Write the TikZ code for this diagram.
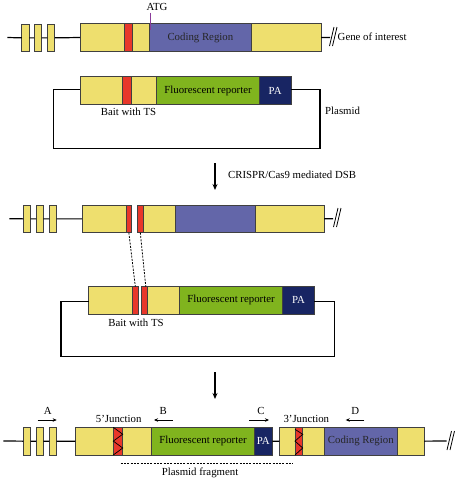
\documentclass[tikz,border=0pt]{standalone}
\usepackage{fontspec}
\setmainfont{Liberation Serif}
\usetikzlibrary{arrows.meta}
\definecolor{cyel}{HTML}{EEDF6E}
\definecolor{cred}{HTML}{E8372A}
\definecolor{cblu}{HTML}{6366A9}
\definecolor{cgrn}{HTML}{80B41E}
\definecolor{cnav}{HTML}{182563}
\definecolor{cpur}{HTML}{8A3C9A}
\tikzset{
  seg/.style={draw=black!75, line width=0.8pt, inner sep=0pt, outer sep=0pt, anchor=north west, font=\fontsize{10.8}{13}\selectfont},
  yel/.style={seg, fill=cyel},
  rd/.style={seg, fill=cred},
  blu/.style={seg, fill=cblu},
  grn/.style={seg, fill=cgrn},
  pa/.style={seg, fill=cnav, text=white},
  wire/.style={line width=1.2pt, black},
  lbl/.style={font=\fontsize{10.8}{13}\selectfont, inner sep=0pt},
  primer/.style={line width=0.8pt, -{Stealth[length=4pt,width=3.5pt]}},
  bigarrow/.style={line width=1.2pt, -{Stealth[length=6pt,width=5pt]}},
  dsh/.style={line width=0.8pt, dash pattern=on 2pt off 1.3pt},
  brk/.style={line width=0.8pt}
}
\begin{document}
\begin{tikzpicture}[x=1pt,y=-1pt]
\useasboundingbox (0,0) rectangle (459,482);

% ---------- Row 1: gene of interest ----------
\coordinate (r1s) at (7.3,37.5);
\coordinate (r1e) at (330,37.5);
\node[yel, minimum width=7.5pt, minimum height=27.7pt] (r1e1) at (21.8,24) {};
\node[yel, minimum width=7.5pt, minimum height=27.7pt] (r1e2) at (34,24) {};
\node[yel, minimum width=7.5pt, minimum height=27.7pt] (r1e3) at (47.3,24) {};
\node[yel, minimum width=44pt, minimum height=28.4pt] (r1y1) at (80,23.3) {};
\node[rd, minimum width=8.7pt, minimum height=28.4pt] (r1r) at (124,23.3) {};
\node[yel, minimum width=16.3pt, minimum height=28.4pt] (r1y2) at (132.7,23.3) {};
\node[blu, minimum width=102.7pt, minimum height=28.4pt, text=black!85] (r1c) at (149,23.3) {Coding Region};
\node[yel, minimum width=69.3pt, minimum height=28.4pt] (r1y3) at (251.7,23.3) {};
\draw[wire] (r1s) -- (r1e1.west) (r1e1.east) -- (r1e2.west) (r1e2.east) -- (r1e3.west) (r1e3.east) -- (r1y1.west) (r1y3.east) -- (r1e);
\draw[brk] (329.5,46) -- (334,27) (332.5,46) -- (337,27);
\node[lbl, anchor=west] (goi) at (337.5,37) {Gene of interest};
\node[lbl] (atg) at (157,7) {ATG};
\draw[cpur, line width=1pt] (150,12.5) -- (150,30);

% ---------- Plasmid 1 ----------
\node[yel, minimum width=42.7pt, minimum height=27.6pt] (p1y1) at (80,76.7) {};
\node[rd, minimum width=8.3pt, minimum height=27.6pt] (p1r) at (122.7,76.7) {};
\node[yel, minimum width=25.7pt, minimum height=27.6pt] (p1y2) at (131,76.7) {};
\node[grn, minimum width=102.6pt, minimum height=27.6pt] (p1g) at (156.7,76.7) {Fluorescent reporter};
\node[pa, minimum width=31.7pt, minimum height=27.6pt] (p1pa) at (259.3,76.7) {PA};
\coordinate (p1bl) at (53.3,148.3);
\coordinate (p1br) at (320,148.3);
\draw[wire] ([yshift=1pt]p1y1.west) -| (p1bl) -- (p1br) |- ([yshift=1pt]p1pa.east);
\node[lbl] (bait1) at (128.5,112) {Bait with TS};
\node[lbl, anchor=west] (plas) at (325,111) {Plasmid};

% ---------- Arrow 1 ----------
\coordinate (a1s) at (215,163);
\coordinate (a1e) at (215,190);
\draw[bigarrow] (a1s) -- (a1e);
\node[lbl, anchor=west] (crispr) at (228,175) {CRISPR/Cas9 mediated DSB};

% ---------- Row 2: cut gene ----------
\coordinate (r2s) at (9.3,218.8);
\coordinate (r2e) at (333,218.8);
\node[yel, minimum width=7.4pt, minimum height=27.7pt] (r2e1) at (23.3,205) {};
\node[yel, minimum width=7.4pt, minimum height=27.7pt] (r2e2) at (36,205) {};
\node[yel, minimum width=7.4pt, minimum height=27.7pt] (r2e3) at (49.3,205) {};
\node[yel, minimum width=44.7pt, minimum height=27.7pt] (r2y1) at (82,205) {};
\node[rd, minimum width=4.3pt, minimum height=27.7pt] (r2r1) at (126.7,205) {};
\node[rd, minimum width=6pt, minimum height=27.7pt] (r2r2) at (137.3,205) {};
\node[yel, minimum width=31.7pt, minimum height=27.7pt] (r2y2) at (143.3,205) {};
\node[blu, minimum width=80pt, minimum height=27.7pt] (r2b) at (175,205) {};
\node[yel, minimum width=69pt, minimum height=27.7pt] (r2y3) at (255,205) {};
\draw[wire] (r2s) -- (r2e1.west) (r2e1.east) -- (r2e2.west) (r2e2.east) -- (r2e3.west) (r2e3.east) -- (r2y1.west) (r2y3.east) -- (r2e);
\draw[brk] (333.5,227) -- (338,208) (336.5,227) -- (341,208);

% ---------- Plasmid 2 ----------
\node[yel, minimum width=44pt, minimum height=27.3pt] (p2y1) at (88.7,286.7) {};
\node[rd, minimum width=5.3pt, minimum height=27.3pt] (p2r1) at (132.7,286.7) {};
\node[rd, minimum width=6pt, minimum height=27.3pt] (p2r2) at (141.3,286.7) {};
\node[yel, minimum width=32pt, minimum height=27.3pt] (p2y2) at (147.3,286.7) {};
\node[grn, minimum width=103.4pt, minimum height=27.3pt] (p2g) at (179.3,286.7) {Fluorescent reporter};
\node[pa, minimum width=31.6pt, minimum height=27.3pt] (p2pa) at (282.7,286.7) {PA};
\draw[dsh] (r2r1.south) -- (p2r1.north);
\draw[dsh] (r2r2.south) -- ([xshift=1.5pt]p2r2.north);
\coordinate (p2bl) at (61,356.7);
\coordinate (p2br) at (334.3,356.7);
\draw[wire] ([yshift=-1pt]p2y1.west) -| (p2bl) -- (p2br) |- ([yshift=-1pt]p2pa.east);
\node[lbl] (bait2) at (136,322.5) {Bait with TS};

% ---------- Arrow 2 ----------
\coordinate (a2s) at (215,372);
\coordinate (a2e) at (215,399);
\draw[bigarrow] (a2s) -- (a2e);

% ---------- Row 3: knock-in ----------
\coordinate (r3s) at (3.3,441);
\coordinate (r3e) at (446.7,441);
\node[yel, minimum width=7.4pt, minimum height=27.7pt] (r3e1) at (23.3,427.3) {};
\node[yel, minimum width=7.4pt, minimum height=27.7pt] (r3e2) at (36,427.3) {};
\node[yel, minimum width=7.4pt, minimum height=27.7pt] (r3e3) at (49.3,427.3) {};
\node[yel, minimum width=38pt, minimum height=27.7pt] (j1y1) at (75.3,427.3) {};
\node[rd, minimum width=9.4pt, minimum height=27.7pt] (j1r) at (113.3,427.3) {};
\node[yel, minimum width=29pt, minimum height=27.7pt] (j1y2) at (122.7,427.3) {};
\node[grn, minimum width=102.6pt, minimum height=27.7pt] (j1g) at (151.7,427.3) {Fluorescent reporter};
\node[pa, minimum width=18pt, minimum height=27.7pt] (j1pa) at (254.3,427.3) {PA};
\node[yel, minimum width=15.7pt, minimum height=27.7pt] (j2y1) at (279.3,427.3) {};
\node[rd, minimum width=7.7pt, minimum height=27.7pt] (j2r) at (295,427.3) {};
\node[yel, minimum width=21.6pt, minimum height=27.7pt] (j2y2) at (302.7,427.3) {};
\node[blu, minimum width=73pt, minimum height=27.7pt, text=black!85] (j2b) at (324.3,427.3) {Coding Region};
\node[yel, minimum width=27pt, minimum height=27.7pt] (j2y3) at (397.3,427.3) {};
\draw[wire] (r3s) -- (r3e1.west) (r3e1.east) -- (r3e2.west) (r3e2.east) -- (r3e3.west) (r3e3.east) -- (j1y1.west) (j1pa.east) -- (j2y1.west) (j2y3.east) -- (r3e);
\draw[brk] (447,450) -- (451.5,431) (450,450) -- (454.5,431);
% zigzags in junction boxes
\draw[line width=0.7pt] (j1r.north west) -- ([yshift=-6.9pt]j1r.north east) -- ([yshift=-13.8pt]j1r.north west) -- ([yshift=-20.7pt]j1r.north east) -- (j1r.south west);
\draw[line width=0.7pt] ([yshift=-2pt]j2r.north west) -- ([yshift=-7pt]j2r.north east) -- ([yshift=-13.8pt]j2r.north west) -- ([yshift=-20.7pt]j2r.north east) -- (j2r.south west);
% primers
\coordinate (pAs) at (37.7,420); \coordinate (pAe) at (56.7,420);
\coordinate (pBs) at (172.7,420); \coordinate (pBe) at (154,420);
\coordinate (pCs) at (249.3,420); \coordinate (pCe) at (269,420);
\coordinate (pDs) at (364.3,420); \coordinate (pDe) at (345.7,420);
\draw[primer] (pAs) -- (pAe);
\draw[primer] (pBs) -- (pBe);
\draw[primer] (pCs) -- (pCe);
\draw[primer] (pDs) -- (pDe);
\node[lbl] (lA) at (47.7,411) {A};
\node[lbl] (lB) at (163.3,411) {B};
\node[lbl] (lC) at (261,411) {C};
\node[lbl] (lD) at (355.3,411) {D};
\node[lbl] (j5) at (118.7,419) {5’Junction};
\node[lbl] (j3) at (306.3,419) {3’Junction};
\coordinate (pfs) at (120.7,463.3);
\coordinate (pfe) at (293.3,463.3);
\draw[dsh] (pfs) -- (pfe);
\node[lbl] (pfrag) at (200,472.5) {Plasmid fragment};
\end{tikzpicture}
\end{document}
